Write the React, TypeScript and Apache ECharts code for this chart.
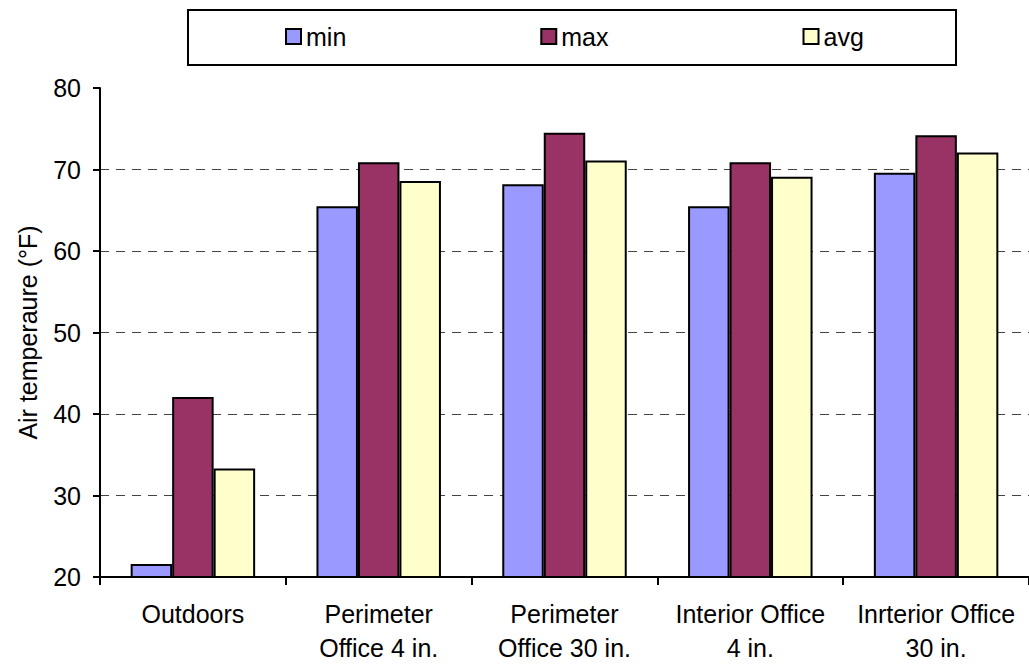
import React, { useEffect, useRef } from "react";
import * as echarts from "echarts";

const categories = [
  "Outdoors",
  "Perimeter\nOffice 4 in.",
  "Perimeter\nOffice 30 in.",
  "Interior Office\n4 in.",
  "Inrterior Office\n30 in.",
];
const minValues = [21.6, 65.5, 68.2, 65.5, 69.6];
const maxValues = [42.1, 70.9, 74.5, 70.9, 74.2];
const avgValues = [33.3, 68.6, 71.1, 69.1, 72.1];
const seriesNames = ["min", "max", "avg"];
const colors = ["#9999FF", "#993366", "#FFFFCC"];

const FONT = "'Liberation Sans', Arial, sans-serif";
const FS = 25;

export default function App() {
  const ref = useRef<HTMLDivElement>(null);
  useEffect(() => {
    if (!ref.current) return;
    const chart = echarts.init(ref.current, null, { renderer: "svg" });
    const data = [minValues, maxValues, avgValues];
    chart.setOption({
      animation: false,
      backgroundColor: "#ffffff",
      textStyle: { fontFamily: FONT },
      graphic: [
        {
          type: "rect",
          shape: { x: 188, y: 10, width: 768, height: 55 },
          style: { fill: "none", stroke: "#000", lineWidth: 2 },
          z: 0,
        },
      ],
      legend: {
        left: 280,
        top: 19,
        itemGap: 194,
        itemWidth: 15,
        itemHeight: 15,
        icon: "rect",
        textStyle: { fontSize: FS, color: "#000", fontFamily: FONT },
        data: seriesNames,
      },
      grid: { left: 100, top: 88, right: -8, bottom: 81, containLabel: false },
      xAxis: {
        type: "category",
        data: categories,
        axisLine: { lineStyle: { color: "#000", width: 2 } },
        axisTick: { show: true, length: 8, lineStyle: { color: "#000", width: 2 } },
        axisLabel: {
          color: "#000",
          fontSize: FS,
          fontFamily: FONT,
          lineHeight: 34,
          margin: 20,
          interval: 0,
        },
      },
      yAxis: {
        type: "value",
        min: 20,
        max: 80,
        interval: 10,
        name: "Air temperaure (°F)",
        nameLocation: "middle",
        nameGap: 60,
        nameRotate: 90,
        nameTextStyle: { color: "#000", fontSize: FS, fontFamily: FONT },
        axisLine: { show: true, lineStyle: { color: "#000", width: 2 } },
        axisTick: { show: true, length: 7, lineStyle: { color: "#000", width: 2 } },
        axisLabel: { color: "#000", fontSize: FS, fontFamily: FONT, margin: 19 },
        splitLine: {
          show: true,
          lineStyle: {
            color: ["transparent", "#444", "#444", "#444", "#444", "#444", "transparent"],
            type: [9, 7],
            width: 1,
          },
        },
      },
      series: seriesNames.map((name, i) => ({
        name,
        type: "bar",
        data: data[i],
        barGap: "0%",
        barCategoryGap: "33%",
        itemStyle: { color: colors[i], borderColor: "#000", borderWidth: 2 },
      })),
    });
    return () => chart.dispose();
  }, []);
  return (
    <div
      ref={ref}
      style={{ position: "fixed", left: 0, top: 0, width: 1029, height: 665 }}
    />
  );
}
